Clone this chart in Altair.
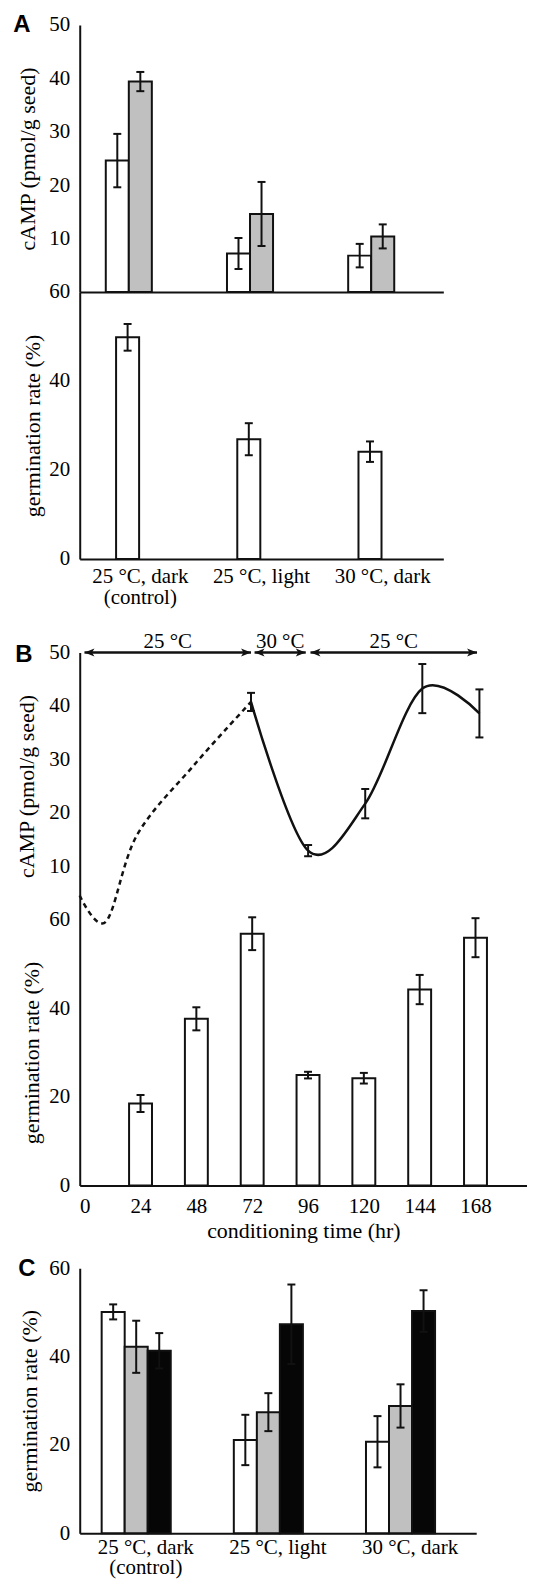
import altair as alt
import pandas as pd

SERIF = "Liberation Serif"
SANS = "Liberation Sans"
INK = "#111111"

# ---------------- Panel A data ----------------
conditions = ["25 °C, dark|(control)", "25 °C, light", "30 °C, dark"]
a_series = ["series 1", "series 2"]
a_camp_1 = [24.6, 7.2, 6.8]
a_camp_1_err = [5.0, 2.9, 2.2]
a_camp_2 = [39.4, 14.6, 10.4]
a_camp_2_err = [1.8, 6.0, 2.25]
a_germ_series = ["series 1"]
a_germ = [49.8, 26.9, 24.1]
a_germ_err = [3.0, 3.6, 2.3]

# ---------------- Panel B data ----------------
b_hours = [24, 48, 72, 96, 120, 144, 168]
b_germ = [18.5, 37.6, 56.8, 24.9, 24.2, 44.2, 55.9]
b_germ_err = [1.9, 2.6, 3.7, 0.75, 1.2, 3.3, 4.4]
b_camp_dash_hours = [0, 11, 24, 48, 72]
b_camp_dash = [4.5, -0.4, 15.75, 28.9, 40.75]
b_camp_hours = [72, 96, 120, 144, 168]
b_camp = [40.75, 12.9, 21.7, 43.25, 38.6]
b_camp_err = [1.7, 1.05, 2.75, 4.6, 4.5]
b_temp_labels = ["25 °C", "30 °C", "25 °C"]
b_temp_start = [2, 73.5, 97]
b_temp_end = [72, 95, 167]
b_tick_hours = [0, 24, 48, 72, 96, 120, 144, 168]

# ---------------- Panel C data ----------------
c_series = ["series 1", "series 2", "series 3"]
c_1 = [50.1, 21.1, 20.7]
c_1_err = [1.7, 5.7, 5.8]
c_2 = [42.2, 27.4, 28.8]
c_2_err = [5.9, 4.3, 4.9]
c_3 = [41.3, 47.3, 50.3]
c_3_err = [4.0, 9.0, 4.7]


def grouped_frame(series, values, errors):
    rows = []
    for s, vals, errs in zip(series, values, errors):
        for c, v, e in zip(conditions, vals, errs):
            rows.append({"condition": c, "series": s, "value": v, "lo": v - e, "hi": v + e})
    return pd.DataFrame(rows)


def letter_layer(ch, dx, dy):
    return alt.Chart(pd.DataFrame({"letter": [ch]})).mark_text(
        font=SANS, fontWeight="bold", fontSize=24, align="center", baseline="middle", color="black"
    ).encode(text="letter:N", x=alt.value(dx), y=alt.value(dy))


def grouped_chart(df, series, fills, ydomain, yvalues, ytitle, title_pad, pad_inner,
                  width, height, label_pad=None, line_h=21, letter=None):
    if label_pad is not None:
        xaxis = alt.Axis(title=None, labelAngle=0, labelExpr="split(datum.label, '|')",
                         labelLineHeight=line_h, labelPadding=label_pad)
    else:
        xaxis = alt.Axis(title=None, labels=False)
    xenc = alt.X("condition:N", sort=conditions,
                 scale=alt.Scale(paddingInner=pad_inner, paddingOuter=pad_inner / 2), axis=xaxis)
    xoff = alt.XOffset("series:N", sort=series, scale=alt.Scale(paddingInner=0, paddingOuter=0))
    yaxis = alt.Axis(values=yvalues, title=ytitle, titlePadding=title_pad)
    yscale = alt.Scale(domain=ydomain, nice=False)
    bars = alt.Chart(df).mark_bar(stroke=INK, strokeWidth=2).encode(
        x=xenc, xOffset=xoff,
        y=alt.Y("value:Q", scale=yscale, axis=yaxis),
        fill=alt.Fill("series:N", scale=alt.Scale(domain=series, range=fills), legend=None),
    )
    rule = alt.Chart(df).mark_rule(color=INK, strokeWidth=2).encode(
        x=xenc, xOffset=xoff, y=alt.Y("lo:Q", scale=yscale, axis=yaxis), y2="hi:Q")
    cap_hi = alt.Chart(df).mark_tick(orient="horizontal", size=8, thickness=2, color=INK, opacity=1).encode(
        x=xenc, xOffset=xoff, y=alt.Y("hi:Q", scale=yscale, axis=yaxis))
    cap_lo = alt.Chart(df).mark_tick(orient="horizontal", size=8, thickness=2, color=INK, opacity=1).encode(
        x=xenc, xOffset=xoff, y=alt.Y("lo:Q", scale=yscale, axis=yaxis))
    layers = [bars, rule, cap_hi, cap_lo]
    if letter is not None:
        layers.append(letter)
    return alt.layer(*layers).properties(width=width, height=height)


# ---------------- Panel A ----------------
a_camp_df = grouped_frame(a_series, [a_camp_1, a_camp_2], [a_camp_1_err, a_camp_2_err])
a_germ_df = grouped_frame(a_germ_series, [a_germ], [a_germ_err])

a_top = grouped_chart(a_camp_df, a_series, ["white", "#c0c0c0"], [0, 50], [10, 20, 30, 40, 50],
                      "cAMP (pmol/g seed)", 9, 0.43, 365, 268, None, letter=letter_layer("A", -58, 0))
a_bot = grouped_chart(a_germ_df, a_germ_series, ["white"], [0, 60], [0, 20, 40, 60],
                      "germination rate (%)", 4, 0.6, 365, 268, 7, 21)

# ---------------- Panel B ----------------
xb_scale = alt.Scale(domain=[0, 188], nice=False, zero=False)
yb_camp_scale = alt.Scale(domain=[0, 50], nice=False)
yb_camp_axis = alt.Axis(values=[10, 20, 30, 40, 50], title="cAMP (pmol/g seed)", titlePadding=10)

dash_df = pd.DataFrame({"hour": b_camp_dash_hours, "camp": b_camp_dash})
solid_df = pd.DataFrame({"hour": b_camp_hours, "camp": b_camp,
                         "lo": [v - e for v, e in zip(b_camp, b_camp_err)],
                         "hi": [v + e for v, e in zip(b_camp, b_camp_err)]})
temp_df = pd.DataFrame({"label": b_temp_labels, "start": b_temp_start, "end": b_temp_end,
                        "mid": [(s + e) / 2 for s, e in zip(b_temp_start, b_temp_end)]})

xb_none = lambda f: alt.X(f, scale=xb_scale, axis=None)
yb = lambda f: alt.Y(f, scale=yb_camp_scale, axis=yb_camp_axis)

b_dash = alt.Chart(dash_df).mark_line(interpolate="cardinal", color=INK, strokeWidth=2.5,
                                      strokeDash=[5, 4]).encode(x=xb_none("hour:Q"), y=yb("camp:Q"))
b_solid = alt.Chart(solid_df).mark_line(interpolate="cardinal", color=INK, strokeWidth=2.5).encode(
    x=xb_none("hour:Q"), y=yb("camp:Q"))
b_err = alt.Chart(solid_df).mark_rule(color=INK, strokeWidth=2).encode(
    x=xb_none("hour:Q"), y=yb("lo:Q"), y2="hi:Q")
b_cap_hi = alt.Chart(solid_df).mark_tick(orient="horizontal", size=8, thickness=2, color=INK, opacity=1).encode(
    x=xb_none("hour:Q"), y=yb("hi:Q"))
b_cap_lo = alt.Chart(solid_df).mark_tick(orient="horizontal", size=8, thickness=2, color=INK, opacity=1).encode(
    x=xb_none("hour:Q"), y=yb("lo:Q"))
b_arrow = alt.Chart(temp_df).mark_rule(color=INK, strokeWidth=2.5).encode(
    x=xb_none("start:Q"), x2="end:Q", y=alt.datum(50))
b_head_l = alt.Chart(temp_df).mark_point(shape="M0,0L2,-0.8L1.5,0L2,0.8Z", filled=True, size=100,
                                         color=INK, opacity=1).encode(x=xb_none("start:Q"), y=alt.datum(50))
b_head_r = alt.Chart(temp_df).mark_point(shape="M0,0L-2,-0.8L-1.5,0L-2,0.8Z", filled=True, size=100,
                                         color=INK, opacity=1).encode(x=xb_none("end:Q"), y=alt.datum(50))
b_temp_text = alt.Chart(temp_df).mark_text(font=SERIF, fontSize=21, baseline="alphabetic", dy=-5,
                                           color="black").encode(
    x=xb_none("mid:Q"), y=alt.datum(50), text="label:N")

b_top = alt.layer(b_dash, b_solid, b_err, b_cap_hi, b_cap_lo, b_arrow, b_head_l, b_head_r, b_temp_text,
                  letter_layer("B", -56, 2)).properties(width=449, height=268)

b_germ_df = pd.DataFrame({"hour": b_hours, "germ": b_germ,
                          "lo": [v - e for v, e in zip(b_germ, b_germ_err)],
                          "hi": [v + e for v, e in zip(b_germ, b_germ_err)]})
xb_axis = alt.Axis(values=b_tick_hours, title="conditioning time (hr)", labelFlush=False,
                   labelPadding=10, titlePadding=4)
xb = lambda f: alt.X(f, scale=xb_scale, axis=xb_axis)
yg_scale = alt.Scale(domain=[0, 60], nice=False)
yg_axis = alt.Axis(values=[0, 20, 40, 60], title="germination rate (%)", titlePadding=5)
yg = lambda f: alt.Y(f, scale=yg_scale, axis=yg_axis)

b_bars = alt.Chart(b_germ_df).mark_bar(size=23, fill="white", stroke=INK, strokeWidth=2).encode(
    x=xb("hour:Q"), y=yg("germ:Q"))
b_gerr = alt.Chart(b_germ_df).mark_rule(color=INK, strokeWidth=2).encode(
    x=xb("hour:Q"), y=yg("lo:Q"), y2="hi:Q")
b_gcap_hi = alt.Chart(b_germ_df).mark_tick(orient="horizontal", size=8, thickness=2, color=INK, opacity=1).encode(
    x=xb("hour:Q"), y=yg("hi:Q"))
b_gcap_lo = alt.Chart(b_germ_df).mark_tick(orient="horizontal", size=8, thickness=2, color=INK, opacity=1).encode(
    x=xb("hour:Q"), y=yg("lo:Q"))
b_bot = alt.layer(b_bars, b_gerr, b_gcap_hi, b_gcap_lo).properties(width=449, height=267)

# ---------------- Panel C ----------------
c_df = grouped_frame(c_series, [c_1, c_2, c_3], [c_1_err, c_2_err, c_3_err])
c_chart = grouped_chart(c_df, c_series, ["white", "#c0c0c0", "#060606"], [0, 60], [0, 20, 40, 60],
                        "germination rate (%)", 7, 0.332, 398, 266, 3, 21, letter=letter_layer("C", -53, 1))


def spacer(h):
    return alt.Chart(pd.DataFrame({"v": [0]})).mark_point(opacity=0).properties(width=10, height=h)


chart = alt.vconcat(
    a_top, a_bot, spacer(94), b_top, b_bot, spacer(83), c_chart,
    spacing=0, bounds="flush",
).resolve_scale(
    x="independent", y="independent", fill="independent"
).properties(
    padding={"left": 5, "top": 2, "right": 0, "bottom": 0}
).configure_axis(
    domainColor=INK, domainWidth=2, ticks=False, tickSize=0, grid=False,
    labelFont=SERIF, labelFontSize=21, labelColor="black", labelPadding=10,
    titleFont=SERIF, titleFontSize=22, titleFontWeight="normal", titleColor="black",
).configure_view(stroke=None)

chart.save("out.html", embed_options={"renderer": "svg", "actions": False})
